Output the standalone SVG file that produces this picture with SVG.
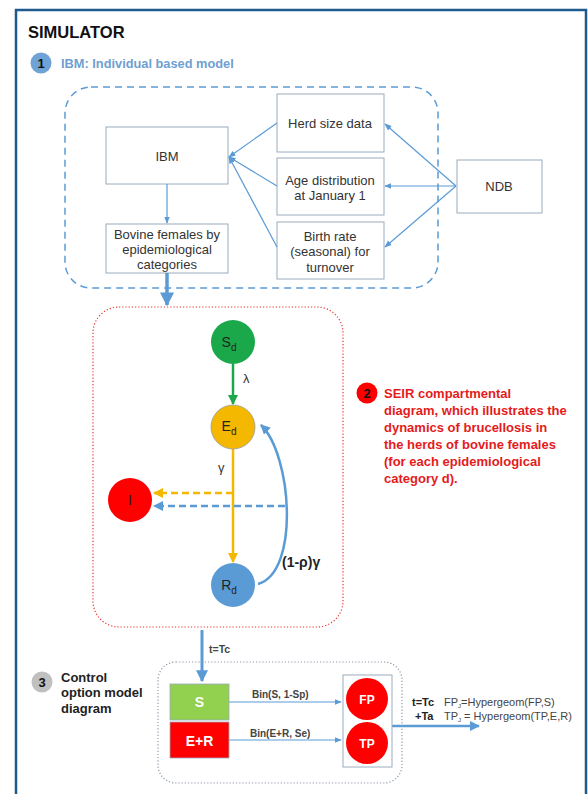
<svg xmlns="http://www.w3.org/2000/svg" width="588" height="794" viewBox="0 0 588 794">
<defs>
<style>
text{font-family:"Liberation Sans",Arial,sans-serif}
.box{fill:#fff;stroke:#9aabbd;stroke-width:1}
.t{font-size:13px;fill:#333;text-anchor:middle}
.ln{stroke:#5b9bd5;stroke-width:1.2;fill:none}
.red{font-size:13px;font-weight:bold;fill:#e41b1b}
.bl{font-size:13px;font-weight:bold;fill:#222}
</style>
<marker id="ah" viewBox="0 0 10 10" refX="9" refY="5" markerWidth="6" markerHeight="6" orient="auto"><path d="M0,1 L10,5 L0,9 z" fill="#5b9bd5"/></marker>
<marker id="ahb" viewBox="0 0 10 10" refX="9" refY="5" markerWidth="4" markerHeight="4" orient="auto"><path d="M0,0 L10,5 L0,10 z" fill="#5b9bd5"/></marker>
<marker id="ahg" viewBox="0 0 10 10" refX="9" refY="5" markerWidth="4" markerHeight="4" orient="auto"><path d="M0,0 L10,5 L0,10 z" fill="#1aa84a"/></marker>
<marker id="ahy" viewBox="0 0 10 10" refX="9" refY="5" markerWidth="4" markerHeight="4" orient="auto"><path d="M0,0 L10,5 L0,10 z" fill="#f5b800"/></marker>
</defs>
<rect x="0" y="0" width="588" height="794" fill="#fff"/>
<path d="M16,800 L16,10 L586,10 L586,800" fill="none" stroke="#1f5a8c" stroke-width="2.5"/>
<text x="28" y="38" style="font-size:16.5px;font-weight:bold;fill:#111">SIMULATOR</text>
<g id="label1">
<circle cx="41" cy="63" r="10.5" fill="#6fa3d6"/>
<text x="41" y="68" style="font-size:13px;font-weight:bold;fill:#111;text-anchor:middle">1</text>
<text x="61" y="68" style="font-size:12.8px;font-weight:bold;fill:#6f9fd0">IBM: Individual based model</text>
</g>
<rect x="65" y="87" width="373" height="201" rx="26" fill="none" stroke="#5b9bd5" stroke-width="1.5" stroke-dasharray="7,5"/>
<g id="ibm"><rect class="box" x="106" y="127" width="122" height="57"/><text class="t" x="167" y="161">IBM</text></g>
<g id="bovine"><rect class="box" x="106" y="224" width="122" height="49"/>
<text class="t" x="167" y="238.5">Bovine females by</text><text class="t" x="167" y="253.5">epidemiological</text><text class="t" x="167" y="268.5">categories</text></g>
<g id="herd"><rect class="box" x="277" y="94" width="107" height="58"/><text class="t" x="330" y="128">Herd size data</text></g>
<g id="age"><rect class="box" x="277" y="158" width="107" height="57"/><text class="t" x="330" y="184.5">Age distribution</text><text class="t" x="330" y="199.5">at January 1</text></g>
<g id="birth"><rect class="box" x="277" y="222" width="107" height="57"/><text class="t" x="330" y="240.5">Birth rate</text><text class="t" x="330" y="256">(seasonal) for</text><text class="t" x="330" y="271.5">turnover</text></g>
<g id="ndb"><rect class="box" x="457" y="160" width="85" height="53"/><text class="t" x="499" y="191">NDB</text></g>
<g id="label2">
<circle cx="367" cy="393" r="10.5" fill="#ff0000"/>
<text x="367" y="398" style="font-size:13px;font-weight:bold;fill:#111;text-anchor:middle">2</text>
<text class="red" x="384" y="398">SEIR compartmental</text>
<text class="red" x="384" y="415">diagram, which illustrates the</text>
<text class="red" x="384" y="432">dynamics of brucellosis in</text>
<text class="red" x="384" y="449">the herds of bovine females</text>
<text class="red" x="384" y="466">(for each epidemiological</text>
<text class="red" x="384" y="483">category d).</text>
</g>
<rect x="93" y="307" width="250" height="320" rx="26" fill="none" stroke="#e33" stroke-width="1.2" stroke-dasharray="1.2,2"/>
<g id="connectors">
<line class="ln" x1="167" y1="184" x2="167" y2="223" marker-end="url(#ah)"/>
<line class="ln" x1="277" y1="123" x2="229" y2="157" marker-end="url(#ah)"/>
<line class="ln" x1="277" y1="186" x2="229" y2="157" marker-end="url(#ah)"/>
<line class="ln" x1="277" y1="247" x2="229" y2="157" marker-end="url(#ah)"/>
<line class="ln" x1="456" y1="186" x2="385" y2="124" marker-end="url(#ah)"/>
<line class="ln" x1="456" y1="186" x2="385" y2="186" marker-end="url(#ah)"/>
<line class="ln" x1="456" y1="186" x2="385" y2="247" marker-end="url(#ah)"/>
<line x1="167" y1="273" x2="167" y2="305" stroke="#5b9bd5" stroke-width="3.5" marker-end="url(#ahb)"/>
<line x1="233" y1="364" x2="233" y2="404" stroke="#1aa84a" stroke-width="2.5" marker-end="url(#ahg)"/>
<line x1="233" y1="449" x2="233" y2="562" stroke="#f5b800" stroke-width="2.5" marker-end="url(#ahy)"/>
<line x1="233" y1="493" x2="154" y2="493" stroke="#f5b800" stroke-width="2.5" stroke-dasharray="7,4" marker-end="url(#ahy)"/>
<line x1="285" y1="506" x2="154" y2="506" stroke="#5b9bd5" stroke-width="2.5" stroke-dasharray="7,4" marker-end="url(#ahb)"/>
<path d="M258,584 C300,572 292,455 261,425" fill="none" stroke="#5b9bd5" stroke-width="2.5" marker-end="url(#ahb)"/>
<line x1="202" y1="630" x2="202" y2="681" stroke="#5b9bd5" stroke-width="3" marker-end="url(#ahb)"/>
<line class="ln" x1="229" y1="702" x2="341" y2="702" marker-end="url(#ah)"/>
<line class="ln" x1="229" y1="740" x2="341" y2="740" marker-end="url(#ah)"/>
<line x1="392" y1="726" x2="479" y2="726" stroke="#5b9bd5" stroke-width="2.5" marker-end="url(#ahb)"/>
</g>
<text x="243" y="383" style="font-size:13px;fill:#333">λ</text>
<text x="218" y="472" style="font-size:13px;fill:#333">γ</text>
<text x="282" y="567" style="font-size:14px;font-weight:bold;fill:#222">(1-ρ)γ</text>
<g id="Sd"><circle cx="233" cy="342" r="22" fill="#1aa84a"/><text x="229" y="347" style="font-size:14px;fill:#222;text-anchor:middle">S<tspan font-size="10" dy="4">d</tspan></text></g>
<g id="Ed"><circle cx="233" cy="427" r="22" fill="#f5b800" stroke="#999" stroke-width="0.8"/><text x="229" y="431" style="font-size:14px;fill:#222;text-anchor:middle">E<tspan font-size="10" dy="4">d</tspan></text></g>
<g id="Rd"><circle cx="233" cy="585" r="22" fill="#5b9bd5"/><text x="229" y="590" style="font-size:14px;fill:#222;text-anchor:middle">R<tspan font-size="10" dy="4">d</tspan></text></g>
<g id="I"><circle cx="130" cy="500" r="22" fill="#ff0000"/><text x="130" y="505" style="font-size:14px;fill:#222;text-anchor:middle">I</text></g>
<text x="209" y="653" style="font-size:10.5px;font-weight:bold;fill:#444">t=Tc</text>
<g id="label3">
<circle cx="42" cy="682" r="10.5" fill="#c0c0c0"/>
<text x="42" y="687" style="font-size:13px;font-weight:bold;fill:#111;text-anchor:middle">3</text>
<text class="bl" x="61" y="682">Control</text>
<text class="bl" x="61" y="697">option model</text>
<text class="bl" x="61" y="713">diagram</text>
</g>
<rect x="158" y="662" width="244" height="121" rx="18" fill="none" stroke="#8a98a8" stroke-width="1.2" stroke-dasharray="1.2,2"/>
<g id="S"><rect x="170" y="684" width="59" height="36" fill="#92d050" stroke="#9ab" stroke-width="0.8"/><text x="199.5" y="707" style="font-size:14px;font-weight:bold;fill:#fff;text-anchor:middle">S</text></g>
<g id="ER"><rect x="170" y="722" width="59" height="36" fill="#ff0000" stroke="#9ab" stroke-width="0.8"/><text x="199.5" y="746" style="font-size:14px;font-weight:bold;fill:#fff;text-anchor:middle">E+R</text></g>
<text x="252" y="698" style="font-size:10px;font-weight:bold;fill:#444">Bin(S, 1-Sp)</text>
<text x="250" y="737" style="font-size:10px;font-weight:bold;fill:#444">Bin(E+R, Se)</text>
<g id="fptp"><rect x="343" y="675" width="49" height="92" fill="#fff" stroke="#9aabbd" stroke-width="1"/>
<circle cx="367" cy="699" r="21" fill="#ff0000"/><text x="367" y="704" style="font-size:12px;font-weight:bold;fill:#fff;text-anchor:middle">FP</text>
<circle cx="367" cy="743" r="21" fill="#ff0000"/><text x="367" y="748" style="font-size:12px;font-weight:bold;fill:#fff;text-anchor:middle">TP</text></g>
<text x="412" y="706" style="font-size:11px;font-weight:bold;fill:#222">t=Tc</text>
<text x="415" y="720" style="font-size:11px;font-weight:bold;fill:#222">+Ta</text>
<text x="444" y="706" style="font-size:11px;fill:#444">FP<tspan font-size="6" dy="2">J</tspan><tspan dy="-2">=Hypergeom(FP,S)</tspan></text>
<text x="444" y="720" style="font-size:11px;fill:#444">TP<tspan font-size="6" dy="2">J</tspan><tspan dy="-2"> = Hypergeom(TP,E,R)</tspan></text>
</svg>
